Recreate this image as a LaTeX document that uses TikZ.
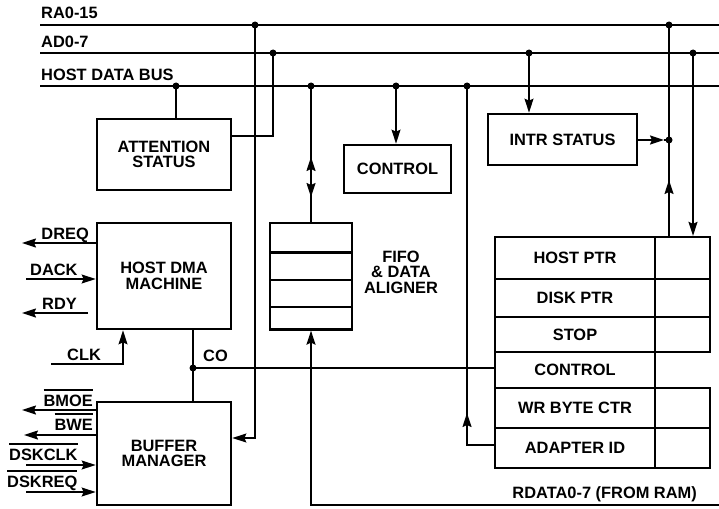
\documentclass[tikz,border=0pt]{standalone}
\usepackage{fontspec}
\setmainfont{Liberation Sans}
\usetikzlibrary{arrows.meta}
\newcommand{\ovl}[1]{\leavevmode\vbox{\hrule height 1.3pt\kern 4pt\hbox{#1}}}
\begin{document}
\begin{tikzpicture}[x=1pt,y=-1pt,
  lbl/.style={font=\fontsize{16.4}{15.5}\selectfont\bfseries, inner sep=0pt},
  box/.style={draw, line width=2.7pt, inner sep=0pt, align=center, lbl},
  cell/.style={draw, line width=2.3pt, inner sep=0pt, lbl},
  wire/.style={line width=1.5pt},
  arr/.style={wire, -{Stealth[length=14pt,width=9pt,inset=2pt]}},
  jdot/.style={fill=black}
]
\fill[white] (0,0) rectangle (719,508);
\useasboundingbox (0,0) rectangle (719,508);

% ---------- boxes ----------
\node[box, minimum width=134pt, minimum height=71pt] (att) at (164,154.5) {ATTENTION\\STATUS};
\node[box, minimum width=107pt, minimum height=48pt] (ctl) at (397.5,169) {CONTROL};
\node[box, minimum width=149pt, minimum height=51pt] (intr) at (562.5,139.5) {INTR STATUS};
\node[box, minimum width=134pt, minimum height=106pt] (dma) at (164,276) {HOST DMA\\MACHINE};
\node[box, minimum width=134pt, minimum height=103pt] (buf) at (164,453.5) {BUFFER\\MANAGER};

% FIFO
\node[cell, minimum width=82pt, minimum height=29.5pt] (f1) at (311,237.75) {};
\node[cell, minimum width=82pt, minimum height=27.5pt] (f2) at (311,266.25) {};
\node[cell, minimum width=82pt, minimum height=27pt] (f3) at (311,293.5) {};
\node[cell, minimum width=82pt, minimum height=22.5pt] (f4) at (311,318.25) {};
\node[lbl, align=center] (fifoL) at (401,272) {FIFO\\\& DATA\\ALIGNER};

% register block
\node[cell, minimum width=160pt, minimum height=42pt] (rHost) at (575,258) {HOST PTR};
\node[cell, minimum width=160pt, minimum height=38pt] (rDisk) at (575,298) {DISK PTR};
\node[cell, minimum width=160pt, minimum height=35pt] (rStop) at (575,334.5) {STOP};
\node[cell, minimum width=160pt, minimum height=36pt] (rCtrl) at (575,370) {CONTROL};
\node[cell, minimum width=160pt, minimum height=40pt] (rWr) at (575,408) {WR BYTE CTR};
\node[cell, minimum width=160pt, minimum height=40pt] (rAdp) at (575,448) {ADAPTER ID};
\node[cell, minimum width=55pt, minimum height=42pt] (rHostR) at (682.5,258) {};
\node[cell, minimum width=55pt, minimum height=38pt] (rDiskR) at (682.5,298) {};
\node[cell, minimum width=55pt, minimum height=35pt] (rStopR) at (682.5,334.5) {};
\node[cell, minimum width=55pt, minimum height=40pt] (rWrR) at (682.5,408) {};
\node[cell, minimum width=55pt, minimum height=40pt] (rAdpR) at (682.5,448) {};

% ---------- buses ----------
\coordinate (raW) at (40,25);  \coordinate (raE) at (719,25);
\coordinate (adW) at (40,53);  \coordinate (adE) at (719,53);
\coordinate (hdW) at (40,86);  \coordinate (hdE) at (719,86);
\draw[wire] (raW) -- (raE);
\draw[wire] (adW) -- (adE);
\draw[wire] (hdW) -- (hdE);
\node[lbl, anchor=base west] (raL) at (41,19) {RA0-15};
\node[lbl, anchor=base west] (adL) at (41,48) {AD0-7};
\node[lbl, anchor=base west] (hdL) at (41,81) {HOST DATA BUS};

% junctions
\coordinate (jRA1) at (255,25);  \coordinate (jRA2) at (669,25);
\coordinate (jAD1) at (273,53);  \coordinate (jAD2) at (529,53); \coordinate (jAD3) at (693,53);
\coordinate (jHD1) at (176,86);  \coordinate (jHD2) at (311,86);
\coordinate (jHD3) at (396,86);  \coordinate (jHD4) at (467,86);
\coordinate (jIS) at (669,140);
\coordinate (jCO) at (193,368);

% ---------- connectors ----------
\draw[wire] (jHD1) -- (jHD1 |- att.north);
\draw[wire] (att.east |- 0,136) -| (jAD1);
\draw[arr] (jRA1) |- (buf.east |- 0,438);

\draw[wire] (jHD2) -- (f1.north);
\coordinate (dUp0) at (311,172); \coordinate (dUp1) at (311,157);
\coordinate (dDn0) at (311,183); \coordinate (dDn1) at (311,197);
\draw[arr] (dUp0) -- (dUp1);
\draw[arr] (dDn0) -- (dDn1);

\draw[arr] (jHD3) -- (jHD3 |- ctl.north);

\draw[wire] (rAdp.west |- 0,445) -| (jHD4);
\coordinate (aiA) at (467,428); \coordinate (aiT) at (467,413);
\draw[arr] (aiA) -- (aiT);

\draw[arr] (jAD2) -- (jAD2 |- intr.north);
\coordinate (isT) at (664,140);
\draw[arr] (intr.east |- jIS) -- (isT);
\draw[wire] (isT) -- (jIS);

\draw[wire] (jRA2) -- (jRA2 |- rHostR.north);
\coordinate (raA) at (669,196); \coordinate (raT) at (669,180);
\draw[arr] (raA) -- (raT);
\draw[arr] (jAD3) -- (jAD3 |- rHostR.north);

\draw[wire] (jCO |- dma.south) -- (jCO |- buf.north);
\draw[wire] (jCO) -- (rCtrl.west |- jCO);
\node[lbl, anchor=base west] (coL) at (203,361) {CO};

\coordinate (clkS) at (51,364); \coordinate (clkC) at (123,364);
\draw[arr] (clkS) -| (clkC |- dma.south);
\node[lbl, anchor=base west] (clkL) at (67,360) {CLK};

\coordinate (rdE) at (719,505);
\draw[arr] (rdE) -| (f4.south);
\node[lbl, anchor=base east] (rdL) at (697,498) {RDATA0-7 (FROM RAM)};

% host DMA signals
\coordinate (dreqE) at (22,243);
\draw[arr] (dma.west |- dreqE) -- (dreqE);
\node[lbl, anchor=base east] (dreqL) at (89,239) {DREQ};
\coordinate (dackS) at (26,279);
\draw[arr] (dackS) -- (dma.west |- dackS);
\node[lbl, anchor=base west] (dackL) at (30,275) {DACK};
\coordinate (rdyS) at (88,313); \coordinate (rdyE) at (22,313);
\draw[arr] (rdyS) -- (rdyE);
\node[lbl, anchor=base east] (rdyL) at (77,309) {RDY};

% buffer manager signals
\coordinate (bmoeE) at (22,410);
\draw[arr] (buf.west |- bmoeE) -- (bmoeE);
\node[lbl, anchor=base east] (bmoeL) at (93,406) {\ovl{BMOE}};
\coordinate (bweE) at (24,435);
\draw[arr] (buf.west |- bweE) -- (bweE);
\node[lbl, anchor=base east] (bweL) at (93,430) {\ovl{BWE}};
\coordinate (dclkS) at (26,465);
\draw[arr] (dclkS) -- (buf.west |- dclkS);
\node[lbl, anchor=base west] (dclkL) at (9,460) {\ovl{DSKCLK}};
\coordinate (dreqS) at (26,492);
\draw[arr] (dreqS) -- (buf.west |- dreqS);
\node[lbl, anchor=base west] (dskrL) at (7,487) {\ovl{DSKREQ}};

% dots
\foreach \j in {jRA1,jRA2,jAD1,jAD2,jAD3,jHD1,jHD2,jHD3,jHD4,jIS,jCO}
  \fill[jdot] (\j) circle[radius=3.5pt];
\end{tikzpicture}
\end{document}
